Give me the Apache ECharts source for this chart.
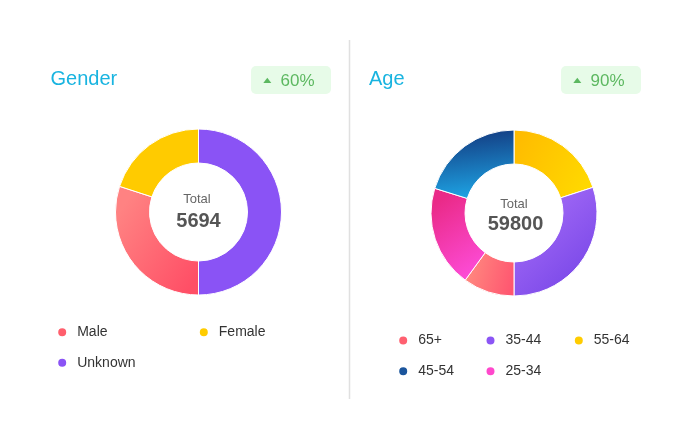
<!DOCTYPE html>
<html>
<head>
<meta charset="utf-8">
<script src="https://cdn.jsdelivr.net/npm/echarts@6/dist/echarts.min.js"></script>
<style>
html,body{margin:0;padding:0;background:#fff;}
#chart{width:700px;height:439px;}
</style>
</head>
<body>
<div id="chart"></div>
<script>
// ---- data ----
const genderNames = ['Unknown', 'Male', 'Female'];
const genderValues = [2847, 1708, 1139];
const genderLegendOrder = ['Male', 'Female', 'Unknown'];
const genderChange = '60%';

const ageNames = ['55-64', '35-44', '65+', '25-34', '45-54'];
const ageValues = [11960, 17940, 5980, 11840, 12080];
const ageLegendOrder = ['65+', '35-44', '55-64', '45-54', '25-34'];
const ageChange = '90%';

// ---- styles ----
const FONT = '"Liberation Sans", Arial, Helvetica, sans-serif';
function lg(c1, c2, x, y, x2, y2) {
  return { type: 'linear', x: x, y: y, x2: x2, y2: y2, colorStops: [{ offset: 0, color: c1 }, { offset: 1, color: c2 }] };
}
const fills = {
  'Unknown': '#8a53f5',
  'Male': lg('#ff8282', '#ff4f66', 0, 0.3, 1, 0.8),
  'Female': '#ffcb00',
  '55-64': lg('#ffb900', '#ffd800', 0, 0, 1, 0.6),
  '35-44': lg('#aa70f9', '#7443e6', 0, 0.1, 1, 0.9),
  '65+': lg('#ff8c80', '#ff5670', 0, 0.3, 1, 0.6),
  '25-34': lg('#ea2a88', '#ff50e0', 0, 0.2, 0.9, 1),
  '45-54': lg('#133a80', '#1ea6e6', 0.4, 0, 0.5, 1)
};
const legendColors = {
  'Male': '#ff5f6d', 'Female': '#ffcc00', 'Unknown': '#8a53f5',
  '65+': '#ff6070', '35-44': '#8b55f5', '55-64': '#ffcc00', '45-54': '#1b559c', '25-34': '#ff48cc'
};

const sum = a => a.reduce((s, v) => s + v, 0);

function pieData(names, values) {
  return names.map((n, i) => ({ name: n, value: values[i], itemStyle: { color: fills[n] } }));
}

// legend positions (icon centres)
const legendPos = {
  'Male': [61.7, 331.7], 'Female': [203.3, 331.7], 'Unknown': [61.7, 362.3],
  '65+': [402.7, 340], '35-44': [490, 340], '55-64': [578.3, 340],
  '45-54': [402.7, 370.7], '25-34': [490, 370.7]
};
const legends = genderLegendOrder.concat(ageLegendOrder).map(n => ({
  left: legendPos[n][0] - 5.5,
  top: legendPos[n][1] - 6.5,
  padding: 0,
  itemWidth: 20,
  itemHeight: 10,
  selectedMode: false,
  data: [{ name: n, icon: 'circle', itemStyle: { color: legendColors[n] } }],
  textStyle: { fontSize: 14, color: '#333', fontFamily: FONT }
}));

function badge(x, txt) {
  return [
    { type: 'rect', shape: { x: x, y: 66, width: 80, height: 28, r: 5 }, style: { fill: '#e7fbe8' } },
    { type: 'polygon', shape: { points: [[x + 12.3, 83], [x + 16.3, 77.7], [x + 20.3, 83]] }, style: { fill: '#5cb860' } },
    { type: 'text', style: { text: txt, x: x + 29.5, y: 81.5, verticalAlign: 'middle', align: 'left', font: '17px ' + FONT, fill: '#5cb860' } }
  ];
}

const option = {
  animation: false,
  legend: legends,
  series: [
    {
      type: 'pie', name: 'Gender', center: [198.5, 212], radius: [49, 83], startAngle: 90,
      label: { show: false }, labelLine: { show: false }, emphasis: { scale: false },
      itemStyle: { borderColor: '#fff', borderWidth: 1 },
      data: pieData(genderNames, genderValues)
    },
    {
      type: 'pie', name: 'Age', center: [514, 213], radius: [49, 83], startAngle: 90,
      label: { show: false }, labelLine: { show: false }, emphasis: { scale: false },
      itemStyle: { borderColor: '#fff', borderWidth: 1 },
      data: pieData(ageNames, ageValues)
    }
  ],
  graphic: [
    { type: 'line', shape: { x1: 349.5, y1: 40, x2: 349.5, y2: 399 }, style: { stroke: '#e0e0e0', lineWidth: 1.5 } },
    { type: 'text', style: { text: 'Gender', x: 50.5, y: 79.5, verticalAlign: 'middle', font: '20px ' + FONT, fill: '#19b4e0' } },
    { type: 'text', style: { text: 'Age', x: 369, y: 79.5, verticalAlign: 'middle', font: '20px ' + FONT, fill: '#19b4e0' } },
    ...badge(251, genderChange),
    ...badge(561, ageChange),
    { type: 'text', style: { text: 'Total', x: 197, y: 199.5, align: 'center', verticalAlign: 'middle', font: '13px ' + FONT, fill: '#666' } },
    { type: 'text', style: { text: String(sum(genderValues)), x: 198.5, y: 221, align: 'center', verticalAlign: 'middle', font: 'bold 20px ' + FONT, fill: '#555' } },
    { type: 'text', style: { text: 'Total', x: 514, y: 204, align: 'center', verticalAlign: 'middle', font: '13px ' + FONT, fill: '#666' } },
    { type: 'text', style: { text: String(sum(ageValues)), x: 515.5, y: 224.5, align: 'center', verticalAlign: 'middle', font: 'bold 20px ' + FONT, fill: '#555' } }
  ]
};

const chart = echarts.init(document.getElementById('chart'), null, { renderer: 'canvas' });
chart.setOption(option);
</script>
</body>
</html>
